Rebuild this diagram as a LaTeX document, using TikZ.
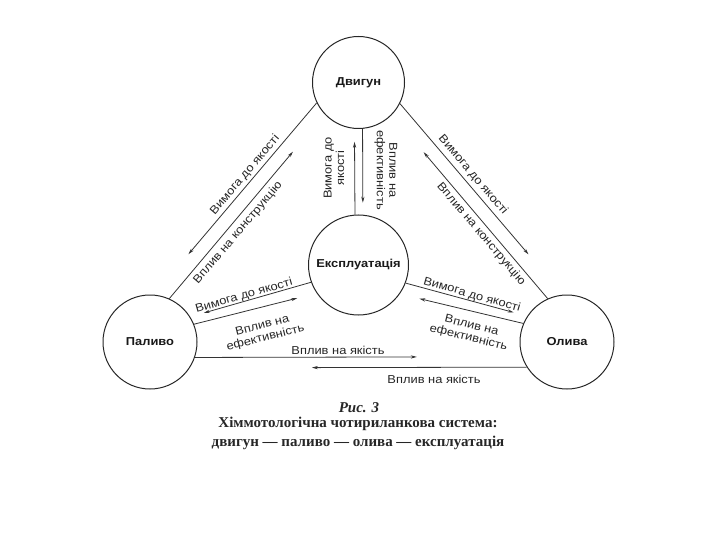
\documentclass[tikz,border=0pt]{standalone}
\usepackage{fontspec}
\setmainfont{Liberation Serif}
\newfontfamily\labelfont{Liberation Sans}[FakeStretch=1.12]
\usetikzlibrary{arrows.meta}

\begin{document}
\begin{tikzpicture}[
    x=1pt, y=-1pt,
    unit/.style={circle, draw=black!85, line width=1pt, inner sep=0pt, text=black!90,
        font=\labelfont\bfseries\fontsize{11.5}{13}\selectfont},
    lbl/.style={inner sep=0pt, align=center, text=black!85,
        font=\labelfont\fontsize{11.5}{12.5}\selectfont},
    arrow/.style={-{Stealth[length=6pt,width=3.2pt]}, line width=0.8pt, draw=black!80},
    caption/.style={inner sep=0pt, text=black!85, font=\bfseries\fontsize{15}{17}\selectfont}
]
    \useasboundingbox (0,0) rectangle (720,540);

    % Units
    \node[unit, minimum size=92pt] (engine) at (358.5,82.5) {Двигун};
    \node[unit, minimum size=100pt] (usage) at (358.5,265) {Експлуатація};
    \node[unit, minimum size=94pt] (fuel) at (150,342) {Паливо};
    \node[unit, minimum size=94pt] (oil) at (567,342) {Олива};

    % Engine -- fuel
    \draw[arrow, shorten >=53pt] (engine.206.7) -- (fuel.85);
    \draw[arrow, shorten >=49pt] (fuel.66) -- (engine.223.3);
    \node[lbl, rotate=49.6] (fuelreq) at (245,175) {Вимога до якості};
    \node[lbl, rotate=49.6] (fuelinf) at (238,233) {Вплив на конструкцію};

    % Engine -- oil
    \draw[arrow, shorten >=53pt] (engine.333.3) -- (oil.95);
    \draw[arrow, shorten >=49pt] (oil.114) -- (engine.316.7);
    \node[lbl, rotate=-49.6] (oilreq) at (473,175) {Вимога до якості};
    \node[lbl, rotate=-49.6] (oilinf) at (481,234) {Вплив на конструкцію};

    % Engine -- usage
    \draw[arrow, shorten >=13pt] (usage.94.6) -- (engine.265);
    \draw[arrow, shorten >=12pt] (engine.275) -- (usage.85.4);
    \node[lbl, rotate=90] (usagereq) at (334,168) {Вимога до\\якості};
    \node[lbl, rotate=-90] (usageinf) at (386,170) {Вплив на\\ефективність};

    % Usage -- fuel
    \draw[arrow, shorten >=14pt] (usage.200.9) -- (fuel.32.1);
    \draw[arrow, shorten >=20pt] (fuel.22.2) -- (usage.214.6);
    \node[lbl, rotate=16] (fuelreq2) at (244,296) {Вимога до якості};
    \node[lbl, rotate=14] (fuelinf2) at (264,332) {Вплив на\\ефективність};

    % Usage -- oil
    \draw[arrow, shorten >=14pt] (usage.339.1) -- (oil.147.9);
    \draw[arrow, shorten >=20pt] (oil.157.8) -- (usage.325.4);
    \node[lbl, rotate=-16] (oilreq2) at (472,295) {Вимога до якості};
    \node[lbl, rotate=-14] (oilinf2) at (470,332) {Вплив на\\ефективність};

    % Fuel -- oil
    \draw[arrow, shorten >=105pt] (fuel.341.4) -- (oil.198.6);
    \draw[arrow, shorten >=122pt] (oil.212.1) -- (fuel.327.9);
    \node[lbl] (fueloil) at (338,350) {Вплив на якість};
    \node[lbl] (oilfuel) at (434,379) {Вплив на якість};

    % Caption
    \node[caption, font=\bfseries\itshape\fontsize{15}{17}\selectfont] (fig) at (359,408) {Рис. 3};
    \node[caption] (title1) at (358,424) {Хіммотологічна чотириланкова система:};
    \node[caption] (title2) at (358,443) {двигун — паливо — олива — експлуатація};
\end{tikzpicture}
\end{document}
